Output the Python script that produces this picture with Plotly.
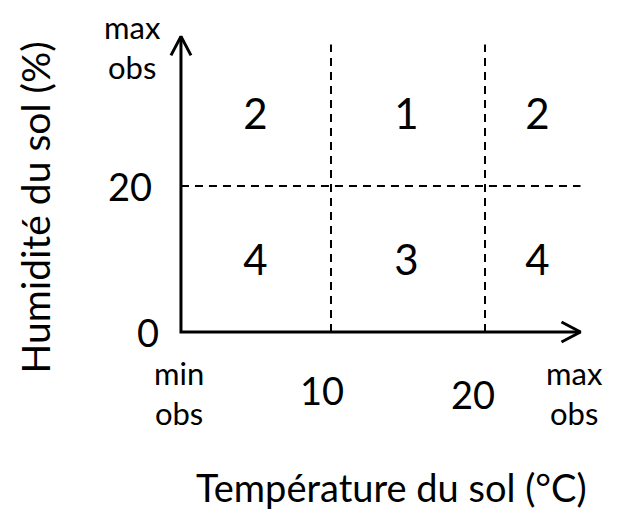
import plotly.graph_objects as go

# ---- data ----
x_dividers = [10, 20]            # temperature thresholds (°C)
y_dividers = [20]                # humidity threshold (%)
x_min, x_max = 0.26, 26.2        # axis extent (min obs -> max obs)
y_min, y_max = 0, 40.5
cell_x = [5.1, 14.9, 23.4]       # column centres
cell_y_top = 29.3
cell_y_bot = 9.2
top_values = ["2", "1", "2"]
bottom_values = ["4", "3", "4"]
x_tick_vals = [0.1, 9.4, 19.2, 25.8]
x_tick_text = ["min<br>obs", "10", "20", "max<br>obs"]
y_tick_vals = [0, 20, 39.0]
y_tick_text = ["0", "20", "max<br>obs"]

FONT = "Lato"
W, H = 617, 511
XR = [-11.49, 28.57]
YR = [-24.52, 45.48]
px_x = W / (XR[1] - XR[0])
px_y = H / (YR[1] - YR[0])

fig = go.Figure()

# dashed lines
for xv in x_dividers:
    fig.add_trace(go.Scatter(x=[xv, xv], y=[y_min, 39.4], mode="lines",
                             line=dict(color="black", width=2, dash="8px,6px"),
                             hoverinfo="skip", showlegend=False))
for yv in y_dividers:
    fig.add_trace(go.Scatter(x=[x_min, x_max], y=[yv, yv], mode="lines",
                             line=dict(color="black", width=2, dash="8px,6px"),
                             hoverinfo="skip", showlegend=False))

# axes
fig.add_trace(go.Scatter(x=[x_min, x_min, x_max], y=[y_max, y_min, y_min], mode="lines",
                         line=dict(color="black", width=3),
                         hoverinfo="skip", showlegend=False))
# chevron arrowheads (offsets in pixels converted to data)
d, s = 19, 10
fig.add_trace(go.Scatter(
    x=[x_max - d / px_x, x_max, x_max - d / px_x],
    y=[y_min + s / px_y, y_min, y_min - s / px_y],
    mode="lines", line=dict(color="black", width=3), hoverinfo="skip", showlegend=False))
fig.add_trace(go.Scatter(
    x=[x_min - s / px_x, x_min, x_min + s / px_x],
    y=[y_max - d / px_y, y_max, y_max - d / px_y],
    mode="lines", line=dict(color="black", width=3), hoverinfo="skip", showlegend=False))

# cell numbers
fig.add_trace(go.Scatter(x=cell_x, y=[cell_y_top] * 3, mode="text", text=top_values,
                         textfont=dict(family=FONT, size=42, color="black"),
                         hoverinfo="skip", showlegend=False))
fig.add_trace(go.Scatter(x=cell_x, y=[cell_y_bot] * 3, mode="text", text=bottom_values,
                         textfont=dict(family=FONT, size=42, color="black"),
                         hoverinfo="skip", showlegend=False))

annotations = []
# x tick labels
x_label_y = [-8.4, -7.9, -8.5, -8.3]
x_sizes = [31, 38, 38, 31]
for xv, t, yy, sz in zip(x_tick_vals, x_tick_text, x_label_y, x_sizes):
    annotations.append(dict(x=xv, y=yy, text=t, showarrow=False, xref="x", yref="y",
                            font=dict(family=FONT, size=sz, color="black"), align="center"))
# y tick labels
y_label_x = [-1.9, -3.05, -2.9]
y_sizes = [38, 38, 31]
for yv, t, xx, sz in zip(y_tick_vals, y_tick_text, y_label_x, y_sizes):
    annotations.append(dict(x=xx, y=yv, text=t, showarrow=False, xref="x", yref="y",
                            font=dict(family=FONT, size=sz, color="black"), align="center"))
# axis titles
annotations.append(dict(x=13.9, y=-21.2, text="Température du sol (°C)", showarrow=False,
                        borderpad=0,
                        xref="x", yref="y", font=dict(family=FONT, size=38, color="black")))
annotations.append(dict(x=-9.2, y=17.1, text="Humidité du sol (%)", showarrow=False, textangle=-90,
                        xref="x", yref="y", font=dict(family=FONT, size=39, color="black")))

fig.update_layout(
    width=W, height=H,
    margin=dict(l=0, r=0, t=0, b=0),
    paper_bgcolor="white", plot_bgcolor="white",
    xaxis=dict(range=XR, visible=False, fixedrange=True),
    yaxis=dict(range=YR, visible=False, fixedrange=True),
    annotations=annotations,
    showlegend=False,
)

fig.write_html("out.html", config={"displayModeBar": False},
               post_script="document.body.style.margin='0';document.body.style.overflow='hidden';")
